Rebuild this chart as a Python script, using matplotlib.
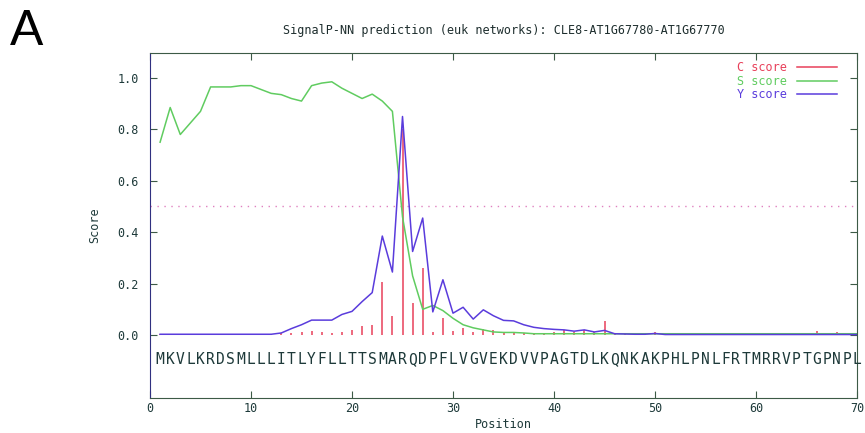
import numpy as np
import matplotlib
matplotlib.use("Agg")
import matplotlib.pyplot as plt

# secuencia y posiciones
seq = "MKVLKRDSMLLLITLYFLLTTSMARQDPFLVGVEKDVVPAGTDLKQNKAKPHLPNLFRTMRRVPTGPNPL"
pos = np.arange(1, 71)

# C score (barras)
c_score = [0.005] * 12 + [
    0.008, 0.008, 0.01, 0.017, 0.01, 0.008, 0.012, 0.018, 0.035, 0.04,   # 13-22
    0.205, 0.075, 0.80, 0.125, 0.26, 0.013, 0.065, 0.017, 0.026, 0.01,   # 23-32
    0.023, 0.02, 0.012, 0.01, 0.008, 0.008, 0.008, 0.012, 0.02, 0.01,    # 33-42
    0.02, 0.01, 0.055, 0.008, 0.008, 0.008, 0.008, 0.012, 0.008, 0.008,  # 43-52
    0.008, 0.008, 0.008, 0.008, 0.008, 0.008, 0.008, 0.008, 0.008, 0.008,  # 53-62
    0.008, 0.008, 0.008, 0.016, 0.008, 0.012, 0.008, 0.008]             # 63-70

# S score
s_score = [
    0.75, 0.885, 0.78, 0.825, 0.87, 0.965, 0.965, 0.965, 0.97, 0.97,     # 1-10
    0.955, 0.94, 0.935, 0.92, 0.91, 0.97, 0.98, 0.985, 0.96, 0.94,       # 11-20
    0.92, 0.937, 0.91, 0.87, 0.46, 0.23, 0.10, 0.115, 0.095, 0.065,      # 21-30
    0.04, 0.028, 0.02, 0.012, 0.01, 0.01, 0.008] + [0.005] * 33          # 31-70

# Y score
y_score = [0.003] * 12 + [
    0.008, 0.025, 0.04, 0.058, 0.058, 0.058, 0.08, 0.092, 0.13, 0.165,   # 13-22
    0.385, 0.245, 0.85, 0.325, 0.455, 0.09, 0.215, 0.085, 0.108, 0.062,  # 23-32
    0.098, 0.075, 0.057, 0.055, 0.04, 0.03, 0.025, 0.022, 0.02, 0.015,   # 33-42
    0.02, 0.012, 0.018, 0.005, 0.004, 0.003, 0.003, 0.006] + [0.002] * 20  # 43-70

red = "#e8405a"
green = "#60cc60"
blue = "#5a3cdc"
frame = "#3c5a46"
txt = "#1e3a3a"

fig = plt.figure(figsize=(8.65, 4.33), dpi=100)
ax = fig.add_axes([0.1734, 0.0808, 0.8174, 0.7968])

ax.axhline(0.5, color="#e080c0", linestyle=(0, (1, 4)), linewidth=1)
ax.vlines(pos, 0, c_score, color=red, linewidth=1.1)
ax.plot([], [], color=red, linewidth=1.1, label="C score")
ax.plot(pos, s_score, color=green, linewidth=1.1, label="S score")
ax.plot(pos, y_score, color=blue, linewidth=1.1, label="Y score")

for i, ch in enumerate(seq):
    ax.text(pos[i], -0.097, ch, ha="center", va="center", fontsize=10.5,
            family="DejaVu Sans Mono", color=txt)

ax.set_xlim(0, 70)
ax.set_ylim(-0.245, 1.097)
ax.set_xticks(np.arange(0, 71, 10))
ax.set_yticks(np.arange(0, 1.01, 0.2))
ax.set_yticklabels([f"{v:.1f}" for v in np.arange(0, 1.01, 0.2)])
ax.tick_params(direction="in", length=5, top=True, right=True, color=frame,
               labelsize=8.5, labelcolor=txt)
ax.tick_params(axis="y", pad=8)
ax.tick_params(axis="x", pad=3)
for lbl in ax.get_xticklabels() + ax.get_yticklabels():
    lbl.set_family("DejaVu Sans Mono")
for sp in ax.spines.values():
    sp.set_color(frame)
ax.spines["left"].set_color("#303080")

ax.set_xlabel("Position", family="DejaVu Sans Mono", fontsize=8.5, color=txt, labelpad=2)
ax.set_ylabel("Score", family="DejaVu Sans Mono", fontsize=8.5, color=txt, labelpad=12)
ax.set_title("SignalP-NN prediction (euk networks): CLE8-AT1G67780-AT1G67770",
             family="DejaVu Sans Mono", fontsize=8.5, color="#1e2e2e", pad=14)

leg = ax.legend(loc="upper right", bbox_to_anchor=(1 - 12 / 707, 1),
                frameon=False, markerfirst=False,
                labelcolor="linecolor", handlelength=3.4, handletextpad=0.8,
                borderaxespad=0.3, labelspacing=0.05,
                prop={"family": "DejaVu Sans Mono", "size": 8.5})

fig.text(0.012, 1 - 45 / 433, "A", fontsize=36, family="Liberation Sans", va="baseline")

fig.savefig("out.png", dpi=100)
